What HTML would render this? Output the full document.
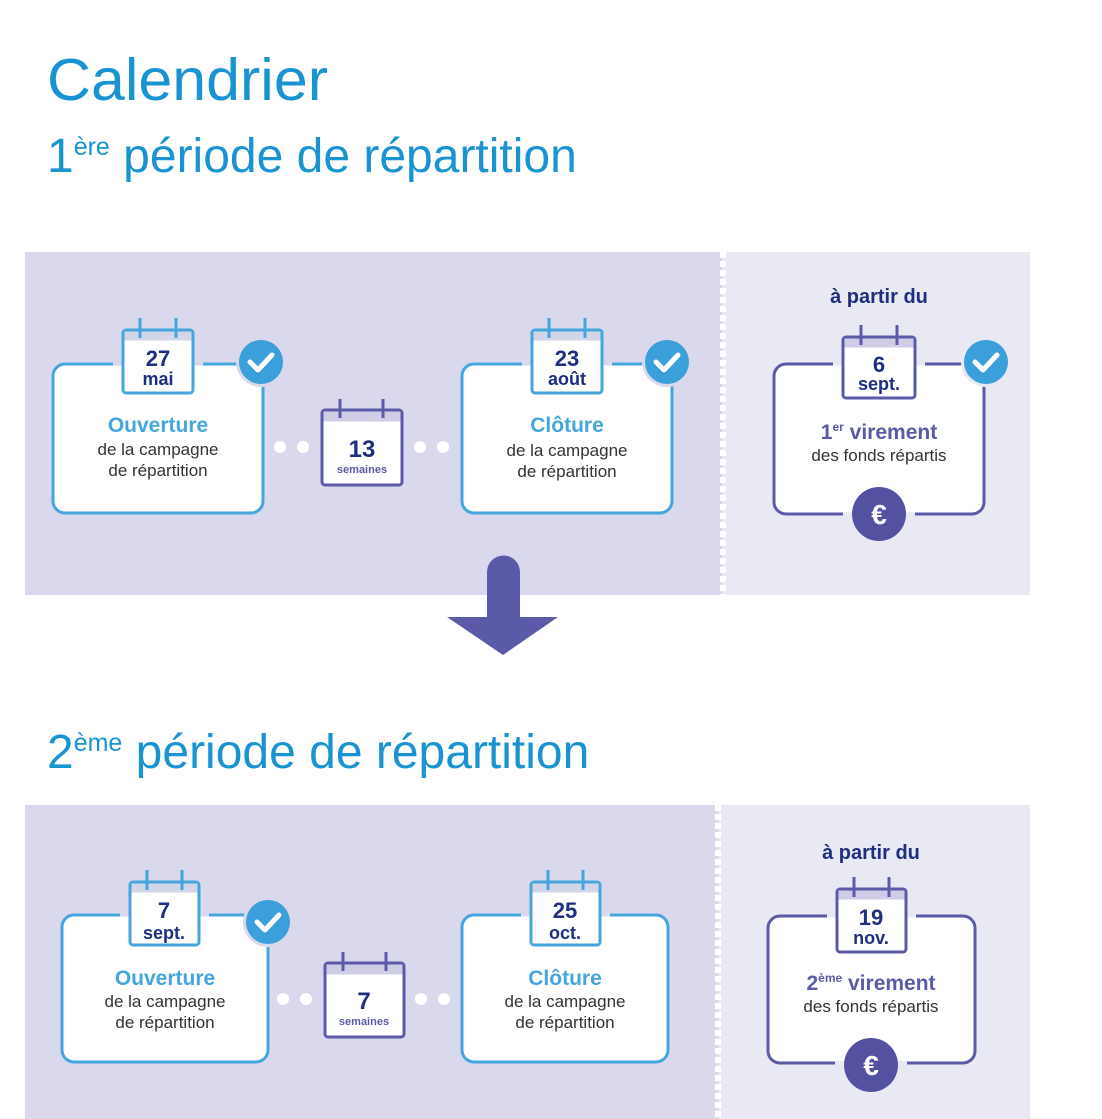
<!DOCTYPE html>
<html><head><meta charset="utf-8"><style>
html,body{margin:0;padding:0;background:#fff;width:1102px;height:1119px;overflow:hidden}
svg{display:block}
.t{font-family:"Liberation Sans",sans-serif}
</style></head><body>
<svg width="1102" height="1119" viewBox="0 0 1102 1119" class="t" xmlns="http://www.w3.org/2000/svg">
<text x="47" y="100" font-size="59" fill="#1a93d3" textLength="281" lengthAdjust="spacingAndGlyphs">Calendrier</text>
<text x="47" y="172" font-size="48" fill="#1a93d3">1<tspan font-size="25" dy="-17">ère</tspan><tspan dy="17"> période de répartition</tspan></text>
<text x="47" y="768" font-size="48" fill="#1a93d3">2<tspan font-size="25" dy="-17">ème</tspan><tspan dy="17"> période de répartition</tspan></text>

<rect x="25" y="252" width="697" height="343" fill="#d9d8ec"/>
<rect x="722" y="252" width="308" height="343" fill="#e9e9f4"/>
<line x1="723" y1="252" x2="723" y2="595" stroke="#fff" stroke-width="6" stroke-dasharray="6 3"/>
<rect x="25" y="805" width="693" height="314" fill="#d9d8ec"/>
<rect x="718" y="805" width="312" height="314" fill="#e9e9f4"/>
<line x1="718" y1="805" x2="718" y2="1119" stroke="#fff" stroke-width="6" stroke-dasharray="6 3"/>

<path d="M487 572 a16.5 16.5 0 0 1 33 0 V617 H558 L503 655 L447 617 H487 Z" fill="#5b5aa8"/>

<g stroke-width="3">
<rect x="53" y="364" width="210" height="149" rx="12" fill="#fff" stroke="#45a6dd"/>
<rect x="113" y="361" width="90" height="4.5" fill="#d9d8ec" stroke="none"/>
<circle cx="261" cy="362" r="25" fill="#d9d8ec" stroke="none"/>
<rect x="462" y="364" width="210" height="149" rx="12" fill="#fff" stroke="#45a6dd"/>
<rect x="522" y="361" width="90" height="4.5" fill="#d9d8ec" stroke="none"/>
<circle cx="667" cy="362" r="25" fill="#d9d8ec" stroke="none"/>
<rect x="774" y="364" width="210" height="150" rx="12" fill="#fff" stroke="#5b5aa8"/>
<rect x="833" y="361" width="92" height="4.5" fill="#e9e9f4" stroke="none"/>
<circle cx="986" cy="362" r="25" fill="#e9e9f4" stroke="none"/>
<rect x="843" y="512" width="72" height="4.5" fill="#e9e9f4" stroke="none"/>

<rect x="62" y="915" width="206" height="147" rx="12" fill="#fff" stroke="#45a6dd"/>
<rect x="120" y="912" width="89" height="4.5" fill="#d9d8ec" stroke="none"/>
<circle cx="268" cy="922" r="25" fill="#d9d8ec" stroke="none"/>
<rect x="462" y="915" width="206" height="147" rx="12" fill="#fff" stroke="#45a6dd"/>
<rect x="521" y="912" width="89" height="4.5" fill="#d9d8ec" stroke="none"/>
<rect x="768" y="916" width="207" height="147" rx="12" fill="#fff" stroke="#5b5aa8"/>
<rect x="827" y="913" width="89" height="4.5" fill="#e9e9f4" stroke="none"/>
<rect x="835" y="1061" width="72" height="4.5" fill="#e9e9f4" stroke="none"/>
</g>

<g stroke-width="3">
 <g stroke="#45a6dd">
  <rect x="123" y="330" width="70" height="63" rx="3" fill="#fff"/><rect x="124.5" y="331.5" width="67" height="9" fill="#d3d6e6" stroke="none"/>
  <line x1="140" y1="318" x2="140" y2="338"/><line x1="176" y1="318" x2="176" y2="338"/>
  <rect x="532" y="330" width="70" height="63" rx="3" fill="#fff"/><rect x="533.5" y="331.5" width="67" height="9" fill="#d3d6e6" stroke="none"/>
  <line x1="549" y1="318" x2="549" y2="338"/><line x1="585" y1="318" x2="585" y2="338"/>
  <rect x="130" y="882" width="69" height="63" rx="3" fill="#fff"/><rect x="131.5" y="883.5" width="66" height="9" fill="#d3d6e6" stroke="none"/>
  <line x1="147" y1="870" x2="147" y2="890"/><line x1="182" y1="870" x2="182" y2="890"/>
  <rect x="531" y="882" width="69" height="63" rx="3" fill="#fff"/><rect x="532.5" y="883.5" width="66" height="9" fill="#d3d6e6" stroke="none"/>
  <line x1="548" y1="870" x2="548" y2="890"/><line x1="583" y1="870" x2="583" y2="890"/>
 </g>
 <g stroke="#5b5aa8">
  <rect x="322" y="410" width="80" height="75" rx="3" fill="#fff"/><rect x="323.5" y="411.5" width="77" height="10" fill="#cfcde6" stroke="none"/>
  <line x1="340" y1="399" x2="340" y2="418"/><line x1="383" y1="399" x2="383" y2="418"/>
  <rect x="325" y="963" width="79" height="74" rx="3" fill="#fff"/><rect x="326.5" y="964.5" width="76" height="10" fill="#cfcde6" stroke="none"/>
  <line x1="343" y1="952" x2="343" y2="971"/><line x1="386" y1="952" x2="386" y2="971"/>
  <rect x="843" y="337" width="72" height="61" rx="3" fill="#fff"/><rect x="844.5" y="338.5" width="69" height="9" fill="#cfcde6" stroke="none"/>
  <line x1="861" y1="325" x2="861" y2="345"/><line x1="897" y1="325" x2="897" y2="345"/>
  <rect x="837" y="889" width="69" height="63" rx="3" fill="#fff"/><rect x="838.5" y="890.5" width="66" height="9" fill="#cfcde6" stroke="none"/>
  <line x1="854" y1="877" x2="854" y2="897"/><line x1="889" y1="877" x2="889" y2="897"/>
 </g>
</g>

<g>
 <circle cx="261" cy="362" r="22" fill="#3a9fdb"/><polyline points="250,362 258,370 272,355" fill="none" stroke="#fff" stroke-width="5" stroke-linecap="round" stroke-linejoin="round"/>
 <circle cx="667" cy="362" r="22" fill="#3a9fdb"/><polyline points="656,362 664,370 678,355" fill="none" stroke="#fff" stroke-width="5" stroke-linecap="round" stroke-linejoin="round"/>
 <circle cx="986" cy="362" r="22" fill="#3a9fdb"/><polyline points="975,362 983,370 997,355" fill="none" stroke="#fff" stroke-width="5" stroke-linecap="round" stroke-linejoin="round"/>
 <circle cx="268" cy="922" r="22" fill="#3a9fdb"/><polyline points="257,922 265,930 279,915" fill="none" stroke="#fff" stroke-width="5" stroke-linecap="round" stroke-linejoin="round"/>
</g>

<circle cx="879" cy="514" r="27" fill="#5452a0"/>
<text x="879" y="524" font-size="28" font-weight="bold" fill="#fff" text-anchor="middle">€</text>
<circle cx="871" cy="1065" r="27" fill="#5452a0"/>
<text x="871" y="1075" font-size="28" font-weight="bold" fill="#fff" text-anchor="middle">€</text>

<g fill="#fff">
 <circle cx="280" cy="447" r="6"/><circle cx="303" cy="447" r="6"/><circle cx="420" cy="447" r="6"/><circle cx="443" cy="447" r="6"/>
 <circle cx="283" cy="999" r="6"/><circle cx="306" cy="999" r="6"/><circle cx="421" cy="999" r="6"/><circle cx="444" cy="999" r="6"/>
</g>

<g text-anchor="middle" font-weight="bold" fill="#1e2e80">
 <text x="158" y="366" font-size="22">27</text><text x="158" y="385" font-size="18">mai</text>
 <text x="567" y="366" font-size="22">23</text><text x="567" y="385" font-size="18">août</text>
 <text x="879" y="372" font-size="22">6</text><text x="879" y="390" font-size="18">sept.</text>
 <text x="879" y="303" font-size="20">à partir du</text>
 <text x="362" y="457" font-size="24">13</text>
 <text x="164" y="918" font-size="22">7</text><text x="164" y="939" font-size="18">sept.</text>
 <text x="565" y="918" font-size="22">25</text><text x="565" y="939" font-size="18">oct.</text>
 <text x="871" y="925" font-size="22">19</text><text x="871" y="944" font-size="18">nov.</text>
 <text x="871" y="859" font-size="20">à partir du</text>
 <text x="364" y="1009" font-size="24">7</text>
</g>
<g text-anchor="middle" font-weight="bold" fill="#5b5aa8" font-size="11">
 <text x="362" y="473">semaines</text><text x="364" y="1025">semaines</text>
</g>
<g text-anchor="middle" font-weight="bold" fill="#45a6dd" font-size="21">
 <text x="158" y="432">Ouverture</text><text x="567" y="432">Clôture</text>
 <text x="165" y="985">Ouverture</text><text x="565" y="985">Clôture</text>
</g>
<g text-anchor="middle" font-weight="bold" fill="#5b5aa8" font-size="21">
 <text x="879" y="439">1<tspan font-size="12" dy="-8">er</tspan><tspan dy="8"> virement</tspan></text>
 <text x="871" y="990">2<tspan font-size="12" dy="-8">ème</tspan><tspan dy="8"> virement</tspan></text>
</g>
<g text-anchor="middle" fill="#333" font-size="17">
 <text x="158" y="455">de la campagne</text><text x="158" y="476">de répartition</text>
 <text x="567" y="456">de la campagne</text><text x="567" y="477">de répartition</text>
 <text x="879" y="461">des fonds répartis</text>
 <text x="165" y="1007">de la campagne</text><text x="165" y="1028">de répartition</text>
 <text x="565" y="1007">de la campagne</text><text x="565" y="1028">de répartition</text>
 <text x="871" y="1012">des fonds répartis</text>
</g>
</svg>
</body></html>
